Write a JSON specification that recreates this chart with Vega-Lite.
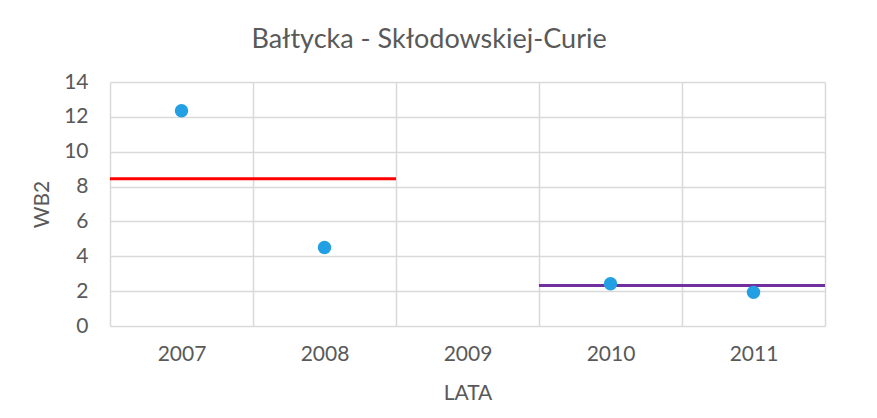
{
  "$schema": "https://vega.github.io/schema/vega-lite/v6.json",
  "width": 715,
  "height": 244,
  "autosize": {"type": "none"},
  "padding": {"left": 110, "top": 82, "right": 52, "bottom": 92},
  "background": "white",
  "title": {"text": "Bałtycka - Skłodowskiej-Curie", "fontSize": 27, "font": "Lato", "fontWeight": "normal", "color": "#595959", "offset": 17, "anchor": "middle", "frame": "bounds"},
  "config": {
    "view": {"stroke": null},
    "font": "Lato",
    "axisX": {"title": "LATA", "tickBand": "extent", "grid": true, "gridColor": "#d9d9d9", "gridWidth": 1.5, "ticks": false, "domain": false, "labelAngle": 0, "labelFontSize": 21, "labelColor": "#595959", "labelPadding": 17, "titleFontSize": 21, "titleColor": "#595959", "titleFontWeight": "normal", "titlePadding": 18, "labelOverlap": false},
    "axisY": {"grid": true, "gridColor": "#d9d9d9", "gridWidth": 1.5, "ticks": false, "domain": false, "labelFontSize": 21, "labelColor": "#595959", "labelPadding": 22, "titleFontSize": 21, "titleColor": "#595959", "titleFontWeight": "normal", "titlePadding": 11, "labelOverlap": false}
  },
  "layer": [
    {
      "data": {"values": [
        {"start": "2007", "end": "2008", "srednia": 8.45, "okres": "A"},
        {"start": "2010", "end": "2011", "srednia": 2.32, "okres": "B"}
      ]},
      "mark": {"type": "rule", "strokeWidth": 3},
      "encoding": {
        "x": {
          "field": "start", "type": "ordinal", "bandPosition": 0,
          "scale": {"type": "band", "domain": ["2007", "2008", "2009", "2010", "2011"], "paddingInner": 0, "paddingOuter": 0},
          "axis": {"title": "LATA"}
        },
        "x2": {"field": "end", "bandPosition": 1},
        "y": {
          "field": "srednia", "type": "quantitative",
          "scale": {"domain": [0, 14], "nice": false},
          "axis": {"title": "WB2", "values": [0, 2, 4, 6, 8, 10, 12, 14]}
        },
        "color": {"field": "okres", "type": "nominal", "scale": {"range": ["#ff0000", "#7030a0"]}, "legend": null}
      }
    },
    {
      "data": {"values": [
        {"rok": "2007", "WB2": 12.35},
        {"rok": "2008", "WB2": 4.5},
        {"rok": "2010", "WB2": 2.42},
        {"rok": "2011", "WB2": 1.93}
      ]},
      "mark": {"type": "point", "filled": true, "size": 180, "color": "#239fe3", "opacity": 1},
      "encoding": {
        "x": {
          "field": "rok", "type": "ordinal",
          "scale": {"type": "band", "domain": ["2007", "2008", "2009", "2010", "2011"], "paddingInner": 0, "paddingOuter": 0},
          "axis": {"title": "LATA"}
        },
        "y": {
          "field": "WB2", "type": "quantitative",
          "scale": {"domain": [0, 14], "nice": false},
          "axis": {"title": "WB2", "values": [0, 2, 4, 6, 8, 10, 12, 14]}
        }
      }
    }
  ]
}
